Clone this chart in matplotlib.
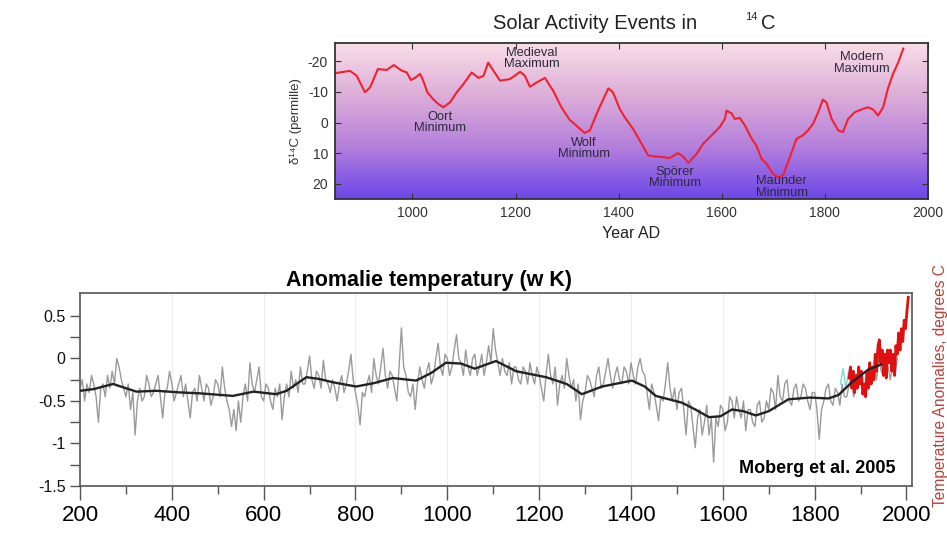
import matplotlib.pyplot as plt
import numpy as np
from matplotlib.colors import LinearSegmentedColormap

plt.rcParams['font.family'] = ['Liberation Sans', 'DejaVu Sans']
plt.rcParams['axes.unicode_minus'] = False

# --- top panel: solar activity events in 14C ---
c14_years = [852, 879, 892, 908, 918, 933, 950, 964, 979, 989, 997, 1005, 1015, 1021,
             1029, 1040, 1050, 1060, 1073, 1086, 1099, 1115, 1128, 1138, 1147, 1157,
             1170, 1189, 1209, 1218, 1228, 1241, 1257, 1273, 1289, 1305, 1318, 1334,
             1344, 1360, 1380, 1389, 1402, 1412, 1428, 1441, 1457, 1470, 1486, 1499,
             1515, 1525, 1535, 1551, 1564, 1583, 1596, 1606, 1609, 1619, 1625, 1635,
             1645, 1658, 1667, 1677, 1687, 1699, 1709, 1719, 1732, 1745, 1757, 1767,
             1777, 1787, 1796, 1803, 1813, 1826, 1835, 1845, 1858, 1874, 1884, 1894,
             1903, 1913, 1922, 1932, 1942, 1952]
c14_vals = [-16.2, -16.9, -15.3, -9.9, -11.5, -17.5, -17.2, -18.8, -17.0, -16.4, -13.9,
            -14.6, -15.9, -13.7, -9.9, -7.7, -6.1, -5.0, -6.6, -9.9, -12.6, -16.4, -14.6,
            -15.3, -19.6, -17.0, -13.7, -14.2, -16.6, -15.3, -11.7, -13.1, -14.6, -10.4,
            -5.0, -0.9, 1.0, 3.4, 2.6, -3.9, -11.2, -9.9, -4.5, -1.7, 2.1, 5.9, 10.7,
            11.1, 11.3, 11.6, 10.0, 11.1, 13.2, 10.3, 6.9, 3.7, 1.5, -1.2, -3.9, -3.0,
            -1.2, -1.5, 1.0, 5.3, 7.5, 11.8, 13.5, 16.7, 18.0, 17.2, 11.3, 5.3, 4.2, 2.6,
            0.4, -3.4, -7.5, -6.6, -1.2, 2.6, 3.1, -1.2, -3.4, -4.5, -5.0, -4.2, -2.3,
            -5.0, -11.0, -15.9, -19.6, -24.2]

event_labels = ["Oort\nMinimum", "Medieval\nMaximum", "Wolf\nMinimum",
                "Spörer\nMinimum", "Maunder\nMinimum", "Modern\nMaximum"]
event_years = [1053, 1232, 1333, 1509, 1716, 1871]
event_vals = [0.0, -21.0, 8.5, 18.0, 21.0, -19.5]

# --- bottom panel: Moberg et al. 2005 reconstruction (5-year steps) ---
recon_years = list(range(200, 1985, 5))
recon_vals = [
    -0.35, -0.25, -0.5, -0.3, -0.4, -0.2, -0.3, -0.45, -0.75, -0.35,
    -0.3, -0.45, -0.2, -0.35, -0.15, -0.3, 0.0, -0.1, -0.25, -0.35,
    -0.45, -0.3, -0.6, -0.4, -0.9, -0.5, -0.35, -0.5, -0.45, -0.2,
    -0.3, -0.45, -0.4, -0.3, -0.2, -0.45, -0.7, -0.4, -0.35, -0.15,
    -0.3, -0.5, -0.4, -0.3, -0.2, -0.45, -0.3, -0.5, -0.7, -0.4,
    -0.35, -0.5, -0.2, -0.35, -0.5, -0.3, -0.35, -0.55, -0.45, -0.25,
    -0.3, -0.45, -0.1, -0.35, -0.5, -0.6, -0.8, -0.6, -0.85, -0.5,
    -0.75, -0.45, -0.3, -0.5, -0.05, -0.3, -0.4, -0.25, -0.1, -0.45,
    -0.5, -0.3, -0.35, -0.5, -0.6, -0.35, -0.45, -0.3, -0.72, -0.45,
    -0.3, -0.45, -0.15, -0.35, -0.25, -0.4, -0.1, -0.3, -0.3, -0.15,
    0.03, -0.25, -0.35, -0.15, -0.2, -0.35, -0.02, -0.25, -0.3, -0.4,
    -0.25, -0.35, -0.5, -0.3, -0.2, -0.4, -0.3, -0.15, 0.05, -0.25,
    -0.4, -0.55, -0.78, -0.4, -0.45, -0.3, -0.2, -0.4, 0.0, -0.2,
    -0.3, -0.1, 0.12, -0.2, -0.35, -0.15, -0.2, -0.35, -0.5, -0.1,
    0.36, -0.1, -0.2, -0.4, -0.45, -0.3, -0.6, -0.3, -0.1, -0.25,
    -0.35, -0.15, -0.05, -0.3, -0.2, 0.0, 0.18, -0.1, -0.2, 0.05,
    0.0, -0.2, -0.1, 0.1, 0.28, 0.0, -0.05, -0.2, 0.1, -0.1,
    -0.2, 0.0, 0.05, -0.2, -0.1, 0.05, -0.2, -0.05, 0.15, -0.05,
    0.35, 0.1, -0.05, -0.2, 0.0, -0.15, -0.2, -0.05, -0.3, -0.1,
    -0.1, -0.25, -0.3, -0.1, -0.15, -0.3, -0.05, -0.2, -0.3, -0.1,
    -0.2, -0.35, -0.5, -0.2, 0.05, -0.2, -0.3, -0.1, -0.55, -0.3,
    -0.2, -0.35, 0.0, -0.2, -0.35, -0.25, -0.5, -0.3, -0.72, -0.5,
    -0.4, -0.2, -0.25, -0.35, -0.45, -0.2, -0.1, -0.35, -0.3, -0.15,
    0.0, -0.2, -0.35, -0.2, -0.1, -0.25, -0.3, -0.1, -0.15, -0.3,
    -0.05, -0.2, -0.3, -0.1, 0.0, -0.15, -0.2, -0.4, -0.6, -0.3,
    -0.4, -0.55, -0.73, -0.45, -0.5, -0.3, -0.05, -0.35, -0.5, -0.35,
    -0.6, -0.4, -0.35, -0.6, -0.9, -0.5, -0.55, -0.8, -1.05, -0.7,
    -0.6, -0.9, -0.75, -0.55, -0.9, -0.7, -1.22, -0.7, -0.8, -0.55,
    -0.6, -0.85, -0.75, -0.45, -0.5, -0.7, -0.45, -0.6, -0.7, -0.5,
    -0.85, -0.6, -0.6, -0.75, -0.8, -0.55, -0.5, -0.75, -0.7, -0.5,
    -0.6, -0.35, -0.4, -0.6, -0.2, -0.45, -0.5, -0.3, -0.25, -0.5,
    -0.55, -0.35, -0.3, -0.5, -0.45, -0.3, -0.35, -0.5, -0.6, -0.4,
    -0.4, -0.6, -0.95, -0.6, -0.5, -0.35, -0.3, -0.5, -0.55, -0.35,
    -0.4, -0.55, -0.3, -0.45, -0.45, -0.3, -0.25, -0.45, -0.35, -0.2,
    -0.2, -0.4, -0.3, -0.15, -0.15, -0.3, -0.1, -0.25, 0.05, -0.15,
    -0.2, -0.05, -0.1, -0.25, -0.05, -0.2, 0.0]

smooth_years = [200, 230, 272, 300, 323, 366, 420, 461, 533, 578, 627, 650, 693, 720,
                751, 801, 840, 881, 932, 965, 997, 1030, 1060, 1080, 1106, 1150, 1215,
                1260, 1293, 1337, 1402, 1430, 1454, 1511, 1540, 1570, 1595, 1620, 1645,
                1672, 1700, 1743, 1790, 1830, 1852, 1881, 1917, 1945]
smooth_vals = [-0.38, -0.36, -0.30, -0.35, -0.39, -0.38, -0.40, -0.41, -0.44, -0.39,
               -0.42, -0.38, -0.22, -0.24, -0.28, -0.33, -0.29, -0.23, -0.26, -0.17,
               -0.05, -0.06, -0.12, -0.08, -0.03, -0.15, -0.22, -0.30, -0.42, -0.33,
               -0.26, -0.33, -0.44, -0.52, -0.60, -0.69, -0.68, -0.60, -0.62, -0.67,
               -0.62, -0.48, -0.46, -0.47, -0.43, -0.28, -0.13, -0.07]

# instrumental record (red) and a short cyan segment before it
instr_years = list(range(1875, 2005, 3))
instr_vals = [-0.23, -0.1, -0.35, -0.15, -0.4, -0.2, -0.35, -0.1, -0.3, -0.15,
              -0.42, -0.3, -0.45, -0.15, -0.35, -0.05, -0.3, -0.1, -0.25, 0.05,
              -0.15, 0.15, 0.22, -0.05, 0.1, -0.2, 0.05, -0.23, 0.1, -0.05,
              0.1, -0.15, 0.05, -0.2, 0.15, 0.05, 0.3, 0.1, 0.35, 0.2,
              0.45, 0.35, 0.55, 0.72]
cyan_years = [1856, 1862, 1868, 1874, 1880, 1886]
cyan_vals = [-0.3, -0.12, -0.35, -0.15, -0.3, -0.2]

fig = plt.figure(figsize=(9.47, 5.36), dpi=100)

# top panel
ax1 = fig.add_axes([0.3538, 0.6287, 0.6262, 0.291])
grad_cmap = LinearSegmentedColormap.from_list(
    'solar', ['#f9dde7', '#dcaed8', '#b47fdc', '#6c46e8'])
grad = np.linspace(0, 1, 256).reshape(-1, 1)
ax1.imshow(grad, cmap=grad_cmap, extent=[850, 2000, 25, -26], aspect='auto',
           origin='upper', zorder=0)
ax1.plot(c14_years, c14_vals, color='#f3202e', lw=1.5, zorder=2)
for label, yr, v in zip(event_labels, event_years, event_vals):
    ax1.text(yr, v, label, ha='center', va='center', fontsize=9.3,
             color='#2a2a3a', linespacing=0.95, zorder=3)
ax1.set_xlim(850, 2000)
ax1.set_ylim(25, -26)
ax1.set_xticks([1000, 1200, 1400, 1600, 1800, 2000])
ax1.set_yticks([-20, -10, 0, 10, 20])
ax1.tick_params(direction='in', top=True, right=True, length=4, width=0.8,
                labelsize=10, colors='#333333', pad=5)
ax1.set_xlabel('Year AD', fontsize=11.5, color='#222222', labelpad=4)
ax1.set_ylabel('δ¹⁴C (permille)', fontsize=9.5, color='#333333', labelpad=4)
for sp in ax1.spines.values():
    sp.set_color('#333333')
    sp.set_linewidth(1.3)
fig.text(0.628, 0.957, 'Solar Activity Events in', fontsize=14.5, color='#222222',
         ha='center', va='center')
fig.text(0.7935, 0.968, '14', fontsize=8, color='#222222', ha='center', va='center')
fig.text(0.811, 0.957, 'C', fontsize=14.5, color='#222222', ha='center', va='center')

# bottom panel
ax2 = fig.add_axes([0.0845, 0.0933, 0.8785, 0.36])
for yr in range(400, 2000, 200):
    ax2.axvline(yr, color='#ececec', lw=0.8, zorder=0)
ax2.plot(recon_years, recon_vals, color='#9a9a9a', lw=1.0, zorder=1)
ax2.plot(cyan_years, cyan_vals, color='#7fd6d6', lw=1.0, zorder=1)
ax2.plot(instr_years, instr_vals, color='#e01010', lw=2.0, zorder=2)
ax2.plot(smooth_years, smooth_vals, color='#222222', lw=1.7, zorder=3)
ax2.set_xlim(200, 2012)
ax2.set_ylim(-1.5, 0.77)
ax2.set_xticks(range(200, 2001, 200))
ax2.set_xticks(range(300, 2000, 200), minor=True)
ax2.set_yticks([0.5, 0, -0.5, -1, -1.5])
ax2.set_yticklabels(['0.5', '0', '-0.5', '-1', '-1.5'])
ax2.set_yticks([0.25, -0.25, -0.75, -1.25], minor=True)
ax2.tick_params(axis='x', which='major', direction='out', length=10, width=1,
                labelsize=16, colors='#555555', labelcolor='black', pad=4)
ax2.tick_params(axis='x', which='minor', direction='out', length=6, width=1,
                colors='#555555')
ax2.tick_params(axis='y', which='both', direction='out', length=7, width=1,
                labelsize=11.5, colors='#555555', labelcolor='#111111')
for sp in ax2.spines.values():
    sp.set_color('#555555')
    sp.set_linewidth(1.2)
ax2.set_title('Anomalie temperatury (w K)', fontsize=15.5, fontweight='bold',
              x=0.42, pad=5)
ax2.text(0.98, 0.093, 'Moberg et al. 2005', transform=ax2.transAxes, fontsize=13,
         fontweight='bold', ha='right', va='center')
fig.text(0.993, 0.28, 'Temperature Anomalies, degrees C', rotation=90, fontsize=11.2,
         color='#b8423a', ha='center', va='center')

fig.savefig('out.png', dpi=100)
